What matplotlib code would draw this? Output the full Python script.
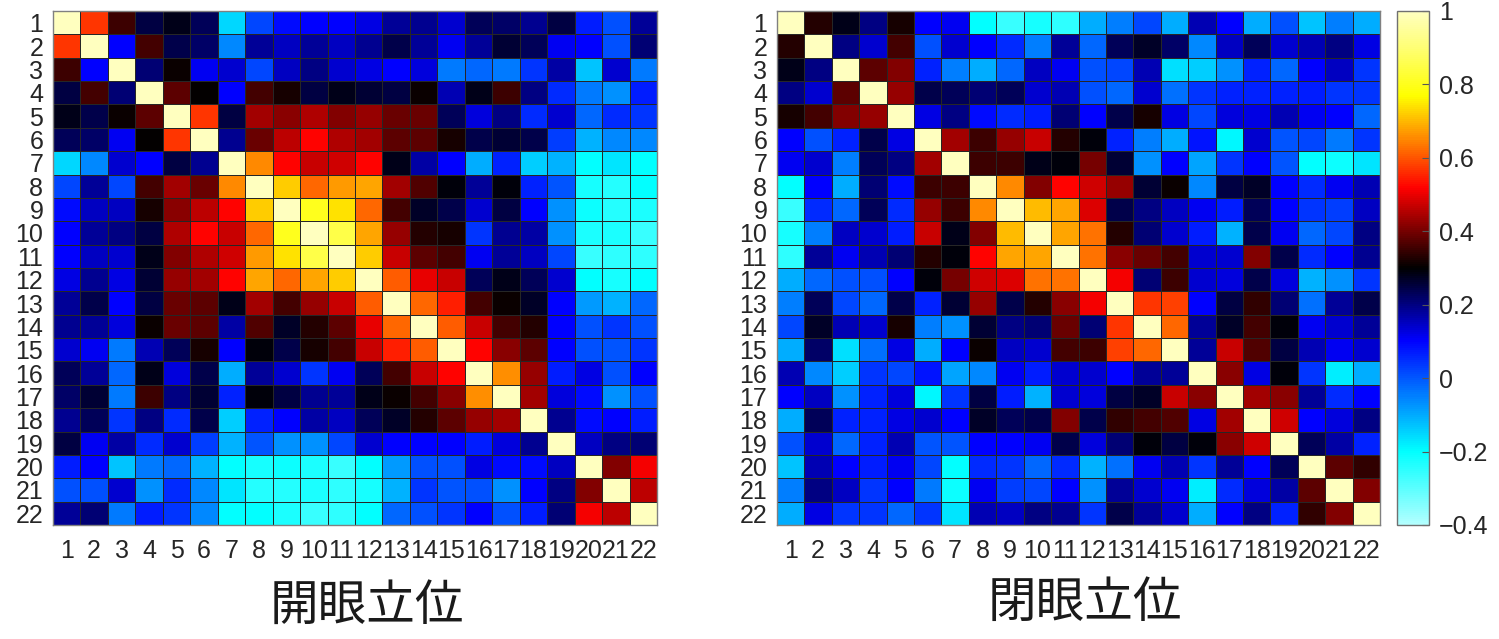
import matplotlib
matplotlib.use('Agg')
import matplotlib.pyplot as plt
import numpy as np
from matplotlib.colors import LinearSegmentedColormap

plt.rcParams['font.family'] = ['Liberation Sans', 'Noto Sans CJK JP', 'DejaVu Sans']

labels = [str(i) for i in range(1, 23)]
titles = ['開眼立位', '閉眼立位']
cbar_ticks = [-0.4, -0.2, 0, 0.2, 0.4, 0.6, 0.8, 1]
cbar_labels = ['\u22120.4', '\u22120.2', '0', '0.2', '0.4', '0.6', '0.8', '1']

# upper triangle only, the matrices are symmetric
eyes_open = [
    [.57, .35, .25, .28, .23, -.15, .02, .09, .10, .10, .12, .18, .19, .14, .23, .22, .19, .25, .07, .01, .18],
    [.10, .36, .24, .22, -.06, .18, .15, .18, .15, .19, .24, .18, .11, .18, .26, .23, .11, .10, .01, .21],
    [.21, .31, .11, .14, .02, .15, .20, .14, .12, .10, .13, -.04, -.02, -.04, .04, .17, -.13, .14, -.04],
    [.38, .30, .10, .36, .32, .25, .28, .26, .25, .31, .16, .28, .35, .20, .05, -.04, -.07, .07],
    [.57, .25, .44, .42, .45, .41, .43, .39, .39, .23, .13, .20, .05, .14, -.02, .05, .04],
    [.19, .39, .46, .52, .45, .44, .38, .38, .32, .24, .26, .24, .03, -.11, -.06, -.06],
    [.65, .52, .47, .48, .52, .28, .17, .10, -.10, .06, -.14, -.11, -.20, -.17, -.20],
    [.72, .62, .67, .68, .44, .37, .29, .18, .29, .06, .00, -.22, -.24, -.20],
    [.80, .74, .62, .36, .27, .24, .14, .25, .10, -.07, -.21, -.24, -.23],
    [.85, .68, .43, .33, .32, .04, .19, .17, -.07, -.23, -.23, -.26],
    [.72, .47, .38, .36, .11, .18, .15, .02, -.26, -.25, -.25],
    [.61, .50, .47, .23, .28, .23, .14, -.20, -.22, -.20],
    [.62, .55, .36, .31, .27, .10, -.08, -.11, -.02],
    [.61, .47, .36, .33, .10, .01, .04, .01],
    [.52, .42, .38, .10, .01, .00, .04],
    [.66, .43, .07, .12, .01, .10],
    [.44, .13, .09, -.07, .01],
    [.19, .09, .10, .07],
    [.15, .20, .21],
    [.41, .51],
    [.46],
]

eyes_closed = [
    [.33, .28, .20, .32, .10, .11, -.20, -.26, -.22, -.25, -.10, -.05, .02, -.10, .16, .10, -.10, .01, -.13, -.05, -.10],
    [.20, .14, .36, .01, .14, .10, .05, -.05, .18, -.02, .23, .27, .22, -.06, .15, .23, .14, .16, .20, .12],
    [.38, .41, .06, -.05, -.10, -.02, .15, .11, .01, .02, .16, -.16, -.14, -.07, .06, -.02, .10, .15, .04],
    [.43, .24, .23, .21, .23, .14, .16, .01, -.02, .14, -.03, .04, .06, .06, .06, .07, .04, .04],
    [.12, .20, .09, .05, .07, .21, .10, .24, .32, .12, .02, .13, .12, .16, .11, .10, -.02],
    [.44, .35, .43, .47, .33, .29, .06, -.05, -.10, .08, -.19, .14, .00, .02, -.04, .04],
    [.35, .35, .28, .29, .40, .26, -.07, .10, -.09, .04, .10, .00, -.20, -.21, -.17],
    [.65, .41, .52, .48, .43, .26, .31, -.06, .25, .27, .10, .05, .11, .16],
    [.70, .68, .49, .24, .20, .15, .11, .07, .23, .10, .04, .03, .15],
    [.68, .63, .33, .21, .14, .07, -.11, .24, .11, -.02, .02, .20],
    [.63, .42, .39, .36, .14, .14, .41, .24, .05, .10, .19],
    [.51, .21, .35, .14, .13, .24, .13, -.11, -.07, .04],
    [.57, .58, .10, .25, .34, .21, -.03, .18, .24],
    [.62, .18, .27, .36, .29, .11, .14, .18],
    [.18, .47, .37, .25, .16, .11, .14],
    [.42, .12, .29, .04, -.18, -.10],
    [.44, .42, .18, .05, .10],
    [.48, .10, .13, .20],
    [.23, .17, .06],
    [.38, .34],
    [.41],
]


def to_matrix(upper):
    m = np.eye(len(upper)+1)
    for i, row in enumerate(upper):
        m[i, i+1:] = row
        m[i+1:, i] = row
    return m


# colour stops
vmin, vmax = -0.4, 1.0
stops = [(-0.4, (0.7, 1, 1)), (-0.2, (0, 1, 1)), (0.1, (0, 0, 1)), (0.3, (0, 0, 0)),
         (0.52, (1, 0, 0)), (0.77, (1, 1, 0)), (0.9, (1, 1, 0.45)), (1.0, (1, 1, 0.75))]
cmap = LinearSegmentedColormap.from_list(
    'jet_hot', [((v-vmin)/(vmax-vmin), c) for v, c in stops], N=256)

W, H = 1499, 639
fig = plt.figure(figsize=(W/100, H/100), dpi=100)


def add_axes(x0, y0, x1, y1):
    return fig.add_axes([x0/W, 1-y1/H, (x1-x0)/W, (y1-y0)/H])


edges = np.arange(23)+0.5
ticks = np.arange(1, 23)
boxes = [(53, 11, 657, 525), (777, 11, 1380, 525)]
mesh = None
for box, data in zip(boxes, [eyes_open, eyes_closed]):
    ax = add_axes(*box)
    mesh = ax.pcolormesh(edges, edges, to_matrix(data), cmap=cmap, vmin=vmin, vmax=vmax,
                         edgecolors='#262626', linewidth=0.45)
    ax.set_xlim(0.5, 22.5)
    ax.set_ylim(22.5, 0.5)
    ax.set_xticks(ticks)
    ax.set_xticklabels(labels)
    ax.set_yticks(ticks)
    ax.set_yticklabels(labels)
    ax.tick_params(length=0, labelsize=18, labelcolor='#262626')
    ax.tick_params(axis='x', pad=10)
    ax.tick_params(axis='y', pad=7)
    for s in ax.spines.values():
        s.set_color('#808080')
        s.set_linewidth(1)

cax = add_axes(1397, 11, 1429, 525)
cb = fig.colorbar(mesh, cax=cax)
cb.set_ticks(cbar_ticks)
cb.set_ticklabels(cbar_labels)
cb.outline.set_edgecolor('#707070')
cb.outline.set_linewidth(1)
cax.tick_params(direction='in', length=5, width=0.8, color='#555555',
                labelsize=18, labelcolor='#262626', pad=7)

fig.text(367/W, 1-607/H, titles[0], fontsize=35, color='#1a1a1a', ha='center', va='center')
fig.text(1085/W, 1-604/H, titles[1], fontsize=35, color='#1a1a1a', ha='center', va='center')

fig.savefig('out.png', dpi=100)
